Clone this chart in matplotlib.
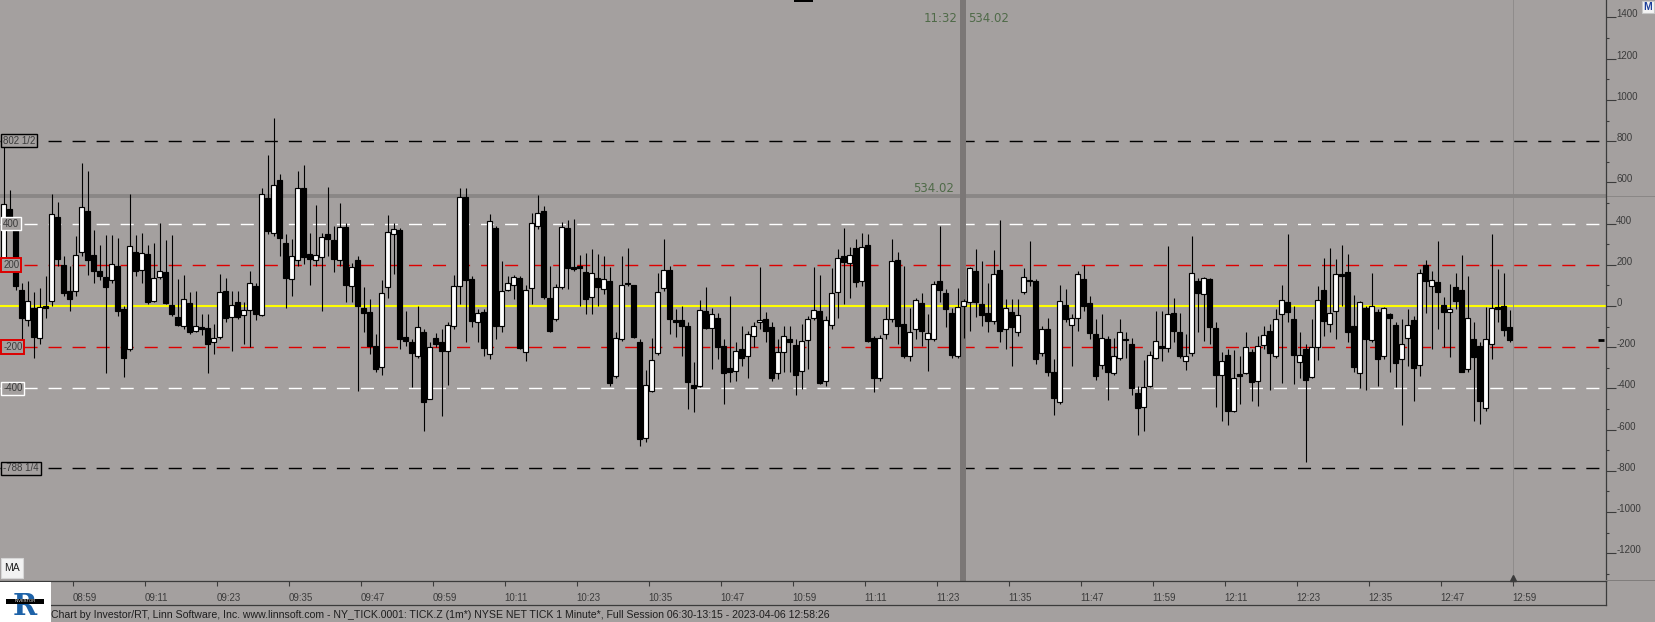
import matplotlib
matplotlib.use("Agg")
import matplotlib.pyplot as plt
import numpy as np
from matplotlib.lines import Line2D
from matplotlib.patches import Rectangle
from matplotlib.ticker import MultipleLocator

plt.rcParams['font.family'] = ['Liberation Sans', 'DejaVu Sans']
plt.rcParams['lines.scale_dashes'] = False
plt.rcParams['axes.unicode_minus'] = False

# NYSE net TICK, 1 minute bars stamped 08:48 .. 12:59
bar_open = [
    219, 469, 421, 77, -69, -11, -154, -2, 22, 431,
    198, 72, 74, 264, 460, 246, 169, 140, 128, 193,
    -15, -209, 264, 177, 251, 22, 143, 164, 6, -51,
    -99, 14, -120, -105, -107, -177, -149, 72, -51, 17,
    -46, -17, 96, -43, 526, 356, 610, 308, 133, 225,
    574, 254, 225, 240, 347, 319, 221, 385, 99, 221,
    -12, -31, -196, -298, 90, 351, 367, -151, -177, -245,
    -128, -449, -153, -177, -220, -99, 99, 531, 130, -80,
    -31, -232, 377, -99, 77, 100, 138, -221, 85, 388,
    463, 41, -61, 94, 377, 187, 190, 167, 46, 138,
    82, 120, -341, -161, 111, 100, -177, -642, -412, -230,
    87, 174, -67, -70, -99, -384, -386, -26, -105, -56,
    -196, -303, -317, -209, -245, -144, -80, -61, -104, -327,
    -225, -158, -187, -314, -166, -59, -22, -363, -90, 66,
    242, 209, 280, 122, 295, -153, -351, -138, -64, 221,
    -88, -245, -112, 14, -158, -158, 119, 62, -35, -245,
    -2, 17, 172, 9, -35, -72, 174, -114, -27, -128,
    70, 128, 119, -227, -114, -322, -468, 4, -90, -56,
    130, 14, -138, -287, -162, -327, -250, -158, -182, -423,
    -492, -387, -250, -196, -206, -36, -128, -269, -230, 119,
    56, 133, -107, -334, -238, -511, -334, -327, -225, -363,
    -187, -122, -245, -41, 17, -65, -274, -209, -343, -201,
    77, -85, -23, 151, 167, -99, -327, -11, -167, -27,
    -245, -41, -93, -255, -154, -69, -284, 197, 95, 116,
    4, -28, 90, 77, -306, -161, -196, -497, -182, -9,
    -1, -104,
]
bar_high = [
    802, 562, 430, 114, 119, 66, 85, 145, 542, 507,
    243, 195, 339, 692, 654, 368, 295, 343, 343, 329,
    0, 545, 343, 356, 295, 308, 405, 319, 343, 130,
    150, 66, 74, -39, -39, -85, 156, 138, 72, 72,
    17, 172, 114, 571, 731, 911, 639, 348, 324, 654,
    683, 353, 489, 353, 579, 388, 498, 405, 211, 242,
    90, 33, -137, 125, 440, 405, 380, -23, -161, 1,
    -112, -177, -132, -112, -80, 149, 574, 571, 146, -15,
    -15, 445, 388, 216, 146, 151, 146, 100, 453, 537,
    486, 194, 106, 408, 416, 424, 246, 256, 276, 251,
    243, 187, -128, 243, 280, 101, -161, -311, -153, 162,
    324, 194, -15, 1, -80, -274, 28, 90, -12, -35,
    -161, 49, -177, -96, -120, -80, 187, -31, -80, -161,
    -96, -96, -161, -88, -48, 190, 150, -48, 183, 276,
    377, 284, 327, 356, 348, -145, -141, -6, 324, 264,
    194, -11, 40, 62, -40, 122, 388, 82, -11, 87,
    33, 187, 276, 216, 114, 271, 416, 33, 33, 33,
    183, 313, 130, -96, -56, -258, 101, 82, -40, 170,
    200, 49, -64, -40, -145, -153, -61, -128, -153, -387,
    -261, -220, -25, -22, 290, 38, -32, -137, 339, 138,
    141, 138, -80, -225, -209, -212, -242, -124, -209, -145,
    -96, -88, -15, 101, 351, 1, -128, -182, -64, 98,
    232, 280, 227, 295, 251, 53, 25, 1, 159, -15,
    -6, -35, -80, -64, -15, -48, 179, 222, 170, 315,
    46, 106, 162, 246, 146, -80, -177, -7, 348, 179,
    162, -20,
]
bar_low = [
    200, 410, 80, -177, -96, -250, -185, -56, 0, 195,
    48, -23, 49, 243, 151, 114, 125, -324, 114, -48,
    -343, -217, 146, 114, 12, 17, 130, 9, -48, -96,
    -112, -137, -128, -140, -324, -233, -161, -80, -220, -64,
    -182, -201, -67, -48, 348, 340, 243, -12, 49, 195,
    203, 103, 195, -23, 243, 166, 195, 17, 17, -411,
    -128, -233, -322, -334, 41, 154, -209, -193, -395, -250,
    -605, -452, -201, -535, -384, -112, 9, -177, -104, -177,
    -242, -258, -161, -125, 74, 33, -209, -266, 9, 372,
    33, -125, -72, 82, 82, 170, 0, -39, -39, 1,
    57, -387, -347, -169, 98, -153, -681, -662, -419, -237,
    74, -137, -148, -242, -500, -516, -395, -112, -306, -258,
    -476, -371, -363, -290, -347, -201, -110, -177, -363, -355,
    -322, -322, -430, -403, -306, -70, -379, -387, -112, -56,
    9, 41, 93, 98, -177, -416, -363, -161, -80, -185,
    -250, -269, -161, -193, -314, -169, 17, -104, -250, -250,
    -153, -120, -51, -99, -125, -88, -177, -209, -290, -145,
    57, 98, -282, -242, -338, -527, -476, -80, -290, -120,
    -23, -158, -358, -306, -455, -334, -262, -251, -430, -625,
    -608, -395, -258, -269, -225, -177, -250, -309, -242, -125,
    -169, -185, -492, -557, -576, -516, -476, -330, -463, -484,
    -209, -408, -250, -374, -80, -379, -351, -755, -348, -261,
    -145, -125, -161, 1, -177, -322, -398, -408, -177, -387,
    -258, -322, -395, -576, -290, -460, -342, -32, -209, -112,
    -201, -246, -15, -322, -322, -560, -573, -508, -258, -77,
    -145, -177,
]
bar_close = [
    497, 421, 98, -57, 22, -149, -7, -6, 448, 229,
    61, 35, 246, 478, 224, 170, 146, 93, 206, -23,
    -251, 290, 170, 255, 20, 138, 172, 15, -38, -91,
    32, -125, -99, -110, -182, -153, 66, -57, 7, -51,
    -17, 114, -38, 542, 364, 589, 330, 137, 243, 574,
    238, 229, 246, 337, 324, 229, 385, 103, 190, 1,
    -36, -193, -308, 65, 361, 372, -159, -172, -227, -104,
    -468, -201, -182, -220, -90, 95, 531, 125, -74, -36,
    -206, 414, -97, 75, 114, 143, -206, 78, 401, 453,
    46, -120, 90, 385, 182, 182, 186, 36, 162, 90,
    133, -376, -153, 100, 108, -149, -645, -381, -260, 70,
    177, -65, -77, -95, -368, -397, -21, -105, -41, -199,
    -327, -322, -220, -254, -134, -95, -66, -120, -351, -225,
    -145, -177, -334, -172, -61, -17, -372, -70, 61, 235,
    214, 246, 117, 284, -169, -348, -153, -65, 219, -96,
    -242, -124, 27, -120, -133, 109, 78, -15, -238, -7,
    22, 182, 17, -43, -75, 154, -120, -9, -104, -43,
    143, 119, -255, -114, -322, -445, 22, -61, -59, 153,
    -2, -130, -338, -153, -319, -242, -128, -167, -397, -494,
    -395, -237, -172, -201, -41, -120, -242, -242, 162, 61,
    138, -101, -334, -269, -511, -351, -338, -201, -368, -196,
    -141, -227, -65, 27, -28, -237, -238, -358, -200, 27,
    -74, -36, 154, 146, -125, -295, 17, -158, -2, -255,
    -12, -56, -275, -182, -93, -300, 159, 119, 124, 69,
    -28, -15, 25, -319, -56, -246, -460, -161, -12, -12,
    -116, -164,
]

first_stamp = 8 * 60 + 48
bar_minutes = np.arange(first_stamp, first_stamp + len(bar_open))

time_labels = ['08:59', '09:11', '09:23', '09:35', '09:47', '09:59', '10:11',
               '10:23', '10:35', '10:47', '10:59', '11:11', '11:23', '11:35',
               '11:47', '11:59', '12:11', '12:23', '12:35', '12:47', '12:59']

level_values = [802.5, 400, 200, 0, -200, -400, -788.25]
level_labels = ['802 1/2', '400', '200', '', '-200', '-400', '-788 1/4']
level_colors = ['black', 'white', '#dd0000', '#ffff00', '#dd0000', 'white', 'black']

cursor_value = 534.02
cursor_time = '11:32'

footer_text = ('Chart by Investor/RT, Linn Software, Inc. www.linnsoft.com - '
               'NY_TICK.0001: TICK.Z (1m*) NYSE NET TICK 1 Minute*, '
               'Full Session 06:30-13:15 - 2023-04-06 12:58:26')

BG = '#a4a09f'
INK = '#3b3b3b'
CURSOR_INK = '#4f6a48'
W, H = 1656, 622


def fx(px):
    return px / W


def fy(py):
    return (H - py) / H


def to_minutes(label):
    hh, mm = label.split(':')
    return int(hh) * 60 + int(mm)


fig = plt.figure(figsize=(W / 100, H / 100), dpi=100, facecolor=BG)
ax = fig.add_axes([0, fy(581), fx(1605.7), 581 / H], facecolor=BG)
ax.set_xlim(526.88, 794.5)
ax.set_ylim(-1334.3, 1484.7)

# reference levels
for value, label, color in zip(level_values, level_labels, level_colors):
    if label == '':
        ax.axhline(value, color=color, lw=1.5, zorder=1)
        continue
    ax.axhline(value, xmin=0, xmax=0.997, color=color, lw=1.0,
               dashes=(9.4, 7.9), zorder=1)
    edge_lw = 1.4 if color == '#dd0000' else 1.0
    ax.text(0.002, value, label, transform=ax.get_yaxis_transform(),
            ha='left', va='center', fontsize=7, color=INK, zorder=6,
            bbox=dict(boxstyle='square,pad=0.18', fc=BG, ec=color, lw=edge_lw))

# crosshair
ax.axhline(cursor_value, color='#8a8786', lw=2.8, zorder=1.5)
ax.axhline(cursor_value, xmin=1.0, xmax=1.032, color='#8a8786', lw=0.7,
           clip_on=False, zorder=1.5)
ax.axvline(687.4, color='#7b7776', lw=4.3, zorder=1.6)
ax.text(679.0, cursor_value + 6, f'{cursor_value:.2f}', fontsize=8.5,
        color=CURSOR_INK, ha='left', va='bottom', family='DejaVu Sans', zorder=6)

# current bar marker
ax.axvline(bar_minutes[-1], color='#8f8c8b', lw=0.7, zorder=1)
ax.plot([bar_minutes[-1]], [0.006], marker='^', ms=5, color=INK,
        transform=ax.get_xaxis_transform(), clip_on=False, zorder=6)

# candles
o = np.array(bar_open, dtype=float)
c = np.array(bar_close, dtype=float)
x = bar_minutes - 0.5
body = np.maximum(np.abs(c - o), 9)
bottom = (o + c) / 2 - body / 2
colors = np.where(c >= o, 'white', 'black')
ax.vlines(x, bar_low, bar_high, color='black', lw=0.8, zorder=3)
ax.bar(x, body, width=0.8, bottom=bottom, color=colors,
       edgecolor='black', linewidth=0.85, zorder=4)

# last price mark on the price scale
ax.plot([0.997], [bar_close[-1]], marker='_', ms=5, mew=2, color='black',
        transform=ax.get_yaxis_transform(), clip_on=False, zorder=6)

# axes styling
for side in ('top', 'left'):
    ax.spines[side].set_visible(False)
for side in ('right', 'bottom'):
    ax.spines[side].set_color(INK)
    ax.spines[side].set_linewidth(0.9)

ax.yaxis.tick_right()
ax.yaxis.set_major_locator(MultipleLocator(200))
ax.yaxis.set_minor_locator(MultipleLocator(100))
ax.tick_params(axis='y', which='major', length=7.2, width=0.8, pad=0.4,
               labelsize=7, colors=INK)
ax.tick_params(axis='y', which='minor', length=2.2, width=0.8, colors=INK)
for lbl in ax.get_yticklabels():
    lbl.set_va('baseline')

ax.set_xticks([to_minutes(t) for t in time_labels], time_labels)
ax.tick_params(axis='x', which='major', length=3.6, width=0.8, pad=5,
               labelsize=7, colors=INK)
for lbl in ax.get_xticklabels():
    lbl.set_ha('left')

# frame under the time scale
fig.add_artist(Line2D([fx(51), fx(1605.7)], [fy(605), fy(605)], color=INK, lw=0.9))
fig.add_artist(Line2D([fx(1605.7), fx(1605.7)], [fy(581), fy(605)], color=INK, lw=0.9))
fig.add_artist(Line2D([fx(1605.7), 1], [fy(580), fy(580)], color='#7f7c7b', lw=0.7))

# cursor readout at the top
fig.text(fx(924), fy(18), cursor_time, fontsize=8.5, color=CURSOR_INK,
         va='center', family='DejaVu Sans')
fig.text(fx(968), fy(18), f'{cursor_value:.2f}', fontsize=8.5, color=CURSOR_INK,
         va='center', family='DejaVu Sans')
fig.add_artist(Rectangle((fx(794), fy(2)), fx(19), 2 / H,
                         transform=fig.transFigure, fc='black', ec='none'))

# "M" button, top right
fig.text(fx(1648), fy(7), 'M', fontsize=7.5, color='#1d3f9a', ha='center',
         va='center', fontweight='bold',
         bbox=dict(boxstyle='square,pad=0.12', fc='#f4f4f4', ec='#c8c8c8', lw=0.8))

# MA button (drawn as a patch plus label so it stays clear of the logo)
fig.add_artist(Rectangle((fx(1), fy(578)), fx(22), 20 / H, transform=fig.transFigure,
                         fc='#f2f2f2', ec='#d6d6d6', lw=0.8))
fig.text(fx(12), fy(568), 'MA', fontsize=7.5, color='#1e1e1e', ha='center',
         va='center')

# logo
fig.add_artist(Rectangle((0, 0), fx(51), 40 / H, transform=fig.transFigure,
                         fc='white', ec='none', zorder=5))
fig.text(fx(25), fy(621), 'R', fontsize=21, fontweight='bold', family='DejaVu Serif',
         color='#1d62a8', ha='center', va='bottom', zorder=6)
fig.add_artist(Rectangle((fx(6), fy(604)), fx(38), 5 / H, transform=fig.transFigure,
                         fc='black', ec='none', zorder=7))
fig.text(fx(25), fy(601.5), 'INVESTOR', fontsize=3, color='white', ha='center',
         va='center', zorder=8)

# footer
footer = fig.text(fx(51), fy(615), footer_text, fontsize=7.5, color='#1e1e1e',
                  va='center', ha='left')
fig.canvas.draw()
width_px = footer.get_window_extent().width
footer.set_fontsize(7.5 * 776 / width_px)

fig.savefig('out.png', dpi=100, facecolor=BG)
